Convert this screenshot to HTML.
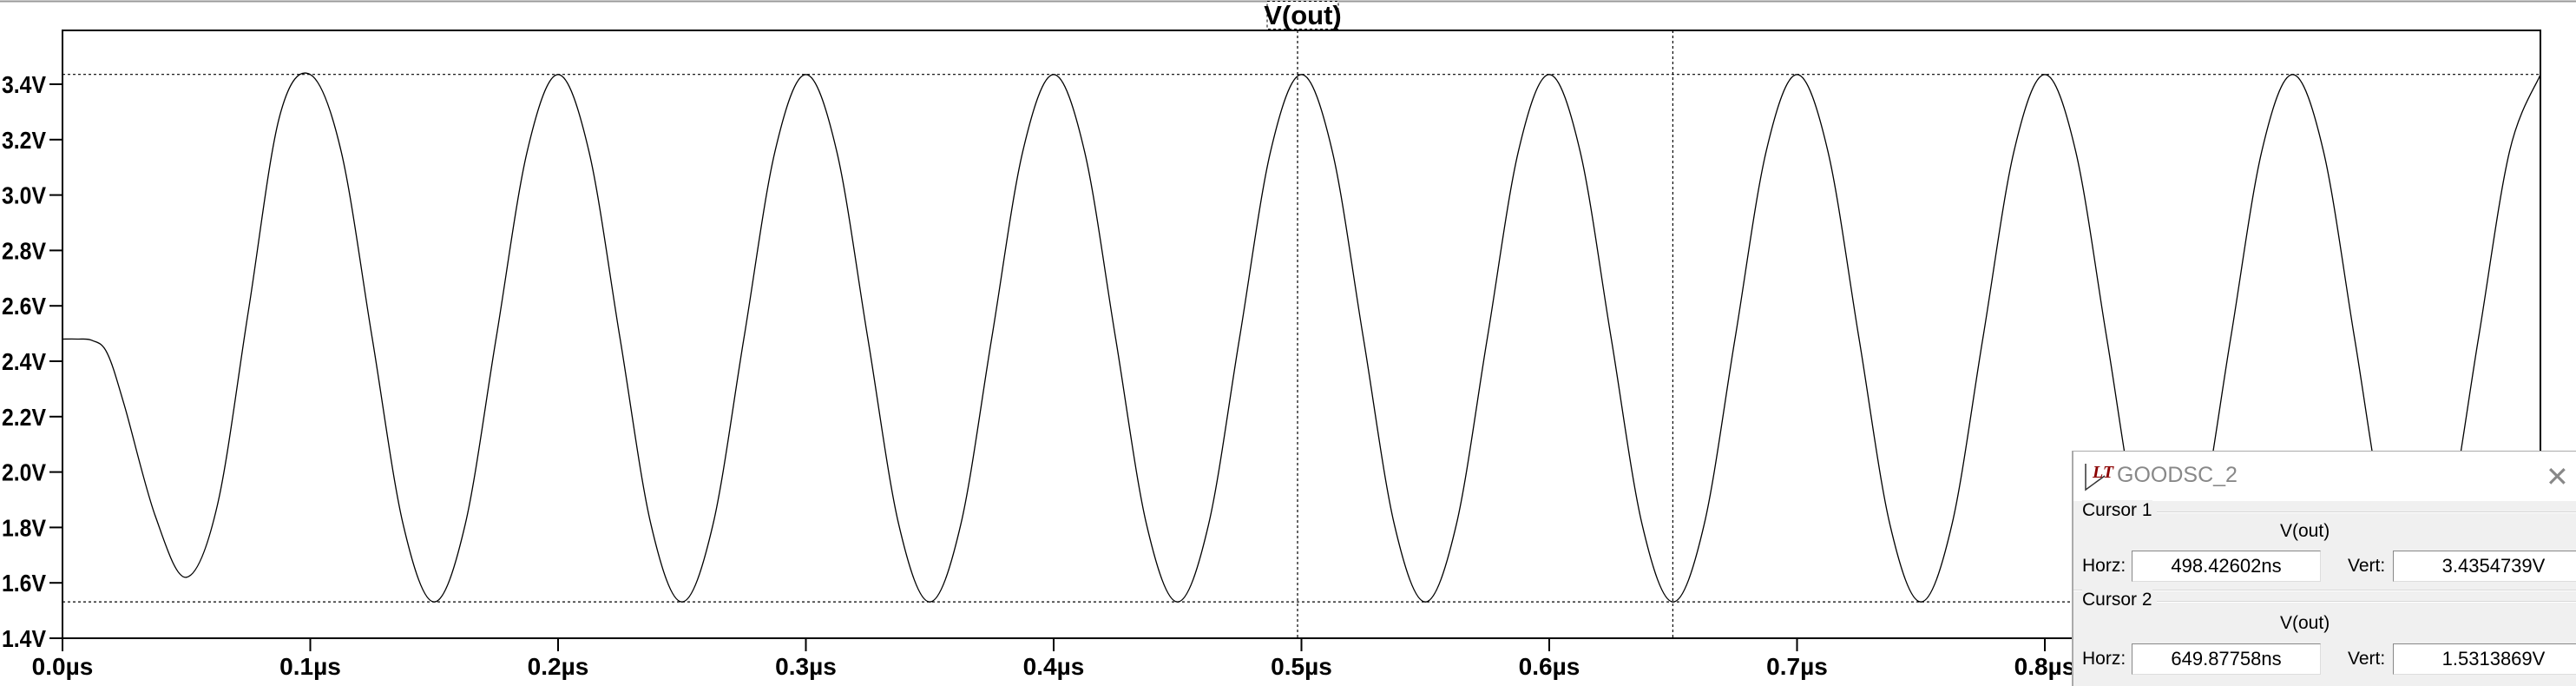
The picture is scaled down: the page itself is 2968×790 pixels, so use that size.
<!DOCTYPE html>
<html><head><meta charset="utf-8"><style>
html,body{margin:0;padding:0;background:#fff;}
body{width:2968px;height:785px;overflow:hidden;position:relative;font-family:"Liberation Sans",sans-serif;}
svg{position:absolute;left:0;top:0;}
.dlg{position:absolute;left:2387px;top:519px;width:590px;height:270px;background:#f0f0f0;border-left:2px solid #aaa;border-top:1px solid #aaa;}
.tb{position:absolute;left:0;top:0;right:0;height:57px;background:#fff;}
.t{position:absolute;white-space:nowrap;font-size:21px;color:#000;}
.box{position:absolute;background:#fff;border:1px solid #888;border-right-color:#ddd;border-bottom-color:#ddd;font-size:22px;text-align:center;line-height:34px;height:34px;}
.gl{position:absolute;height:1px;background:#d8d8d8;border-bottom:1px solid #fff;}
</style></head><body>
<svg id="chart" width="2968" height="785"></svg>
<div class="dlg">
  <div class="tb">
    <svg width="40" height="34" style="left:12px;top:12px">
      <path d="M2 2 L2 32 L24 16" fill="none" stroke="#333" stroke-width="1.5"/>
      <text x="10" y="18" font-family="Liberation Serif,serif" font-style="italic" font-weight="bold" font-size="20" fill="#8b0000">LT</text>
    </svg>
    <div class="t" style="left:50px;top:13px;font-size:25px;color:#888">GOODSC_2</div>
    <div class="t" style="left:544px;top:10px;font-size:32px;color:#888;font-weight:lighter">✕</div>
  </div>
  <div class="gl" style="left:96px;right:0;top:69px"></div>
  <div class="t" style="left:10px;top:56px;background:#f0f0f0">Cursor 1</div>
  <div class="t" style="left:238px;top:80px">V(out)</div>
  <div class="t" style="left:10px;top:120px">Horz:</div>
  <div class="box" style="left:67px;top:114px;width:216px">498.42602ns</div>
  <div class="t" style="left:316px;top:120px">Vert:</div>
  <div class="box" style="left:368px;top:114px;width:230px">3.4354739V</div>
  <div class="gl" style="left:0;right:0;top:159px"></div>
  <div class="gl" style="left:96px;right:0;top:172px"></div>
  <div class="t" style="left:10px;top:159px;background:#f0f0f0">Cursor 2</div>
  <div class="t" style="left:238px;top:186px">V(out)</div>
  <div class="t" style="left:10px;top:227px">Horz:</div>
  <div class="box" style="left:67px;top:221px;width:216px">649.87758ns</div>
  <div class="t" style="left:316px;top:227px">Vert:</div>
  <div class="box" style="left:368px;top:221px;width:230px">1.5313869V</div>
</div>
<script>
const yTicks=[1.4,1.6,1.8,2.0,2.2,2.4,2.6,2.8,3.0,3.2,3.4];
const xTicks=[0,0.1,0.2,0.3,0.4,0.5,0.6,0.7,0.8,0.9];
const tStart=[0,0.006,0.012,0.018,0.025,0.0375,0.05,0.0625,0.075,0.0875];
const vStart=[2.48,2.48,2.475,2.43,2.24,1.84,1.62,1.88,2.58,3.28];
const cycleVals=[3.435,3.156,2.483,1.81,1.531,1.81,2.483,3.156];
const cursor1=[0.49843,3.4354739];
const cursor2=[0.64988,1.5313869];
const svg=document.getElementById('chart');
const NS='http://www.w3.org/2000/svg';
const L=72,R=2927,T=35,B=735;
const X=t=>L+t/1.0*(R-L);
const Y=v=>B-(v-1.4)/0.2*63.8;
function mk(tag,attrs){const e=document.createElementNS(NS,tag);for(const k in attrs)e.setAttribute(k,attrs[k]);svg.appendChild(e);return e;}
let e=mk('line',{x1:0,y1:1.5,x2:2968,y2:1.5,stroke:'#999','stroke-width':2});


e=mk('rect',{x:L,y:T,width:R-L,height:B-T,fill:'none',stroke:'#000','stroke-width':2});


yTicks.forEach(v=>{
  let l=mk('line',{x1:57,x2:L,y1:Y(v),y2:Y(v),stroke:'#000','stroke-width':2});
  
  
  let t=mk('text',{x:2,y:Y(v)+10,'font-family':'Liberation Sans,sans-serif','font-weight':'bold','font-size':28,textLength:51,lengthAdjust:'spacingAndGlyphs'});
  t.textContent=v.toFixed(1)+'V';
  
  
});
xTicks.forEach(v=>{
  let l=mk('line',{x1:X(v),x2:X(v),y1:B,y2:750,stroke:'#000','stroke-width':2});
  
  
  let t=mk('text',{x:X(v),y:777,'text-anchor':'middle','font-family':'Liberation Sans,sans-serif','font-weight':'bold','font-size':28});
  t.textContent=v.toFixed(1)+'µs';
  
  
});
e=mk('rect',{x:1460,y:1.5,width:82,height:32,fill:'#fff',stroke:'#000','stroke-dasharray':'3,3','stroke-width':1});


e=mk('text',{x:1501,y:28,'text-anchor':'middle','font-family':'Liberation Sans,sans-serif','font-weight':'bold','font-size':31});
e.textContent='V(out)';


[cursor1,cursor2].forEach((c,i)=>{
  let v=mk('line',{x1:X(c[0]),x2:X(c[0]),y1:T,y2:B,stroke:'#000','stroke-width':1.2,'stroke-dasharray':'3,3'});
  
  
  let h=mk('line',{x1:L,x2:R,y1:Y(c[1]),y2:Y(c[1]),stroke:'#000','stroke-width':1.2,'stroke-dasharray':'3,3'});
  
  
});
const ts=[],vs=[];
tStart.forEach((t,i)=>{ts.push(t);vs.push(vStart[i]);});
for(let c=0;c<9;c++){cycleVals.forEach((v,i)=>{ts.push(0.1+c*0.1+i*0.0125);vs.push(v);});}
ts.push(1.0);vs.push(cycleVals[0]);
const P=ts.map((t,i)=>[X(t),Y(vs[i])]);
let d='M'+P[0][0]+','+P[0][1];
for(let i=0;i<P.length-1;i++){
  const p0=P[Math.max(0,i-1)],p1=P[i],p2=P[i+1],p3=P[Math.min(P.length-1,i+2)];
  const c1=[p1[0]+(p2[0]-p0[0])/6,p1[1]+(p2[1]-p0[1])/6];
  const c2=[p2[0]-(p3[0]-p1[0])/6,p2[1]-(p3[1]-p1[1])/6];
  d+=' C'+c1[0]+','+c1[1]+' '+c2[0]+','+c2[1]+' '+p2[0]+','+p2[1];
}
e=mk('path',{d:d,fill:'none',stroke:'#000','stroke-width':1.3});


</script>
</body></html>
